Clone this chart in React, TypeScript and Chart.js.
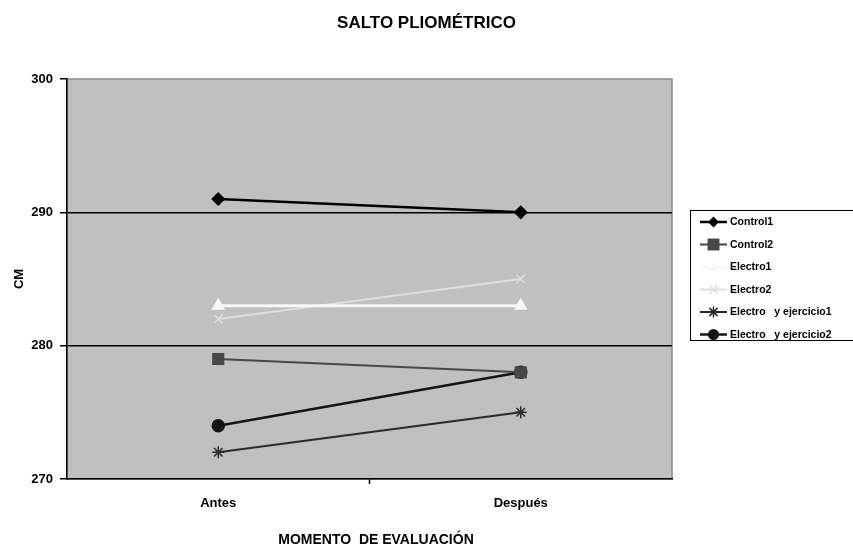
import React, { useEffect, useRef } from "react";
import { Chart, registerables } from "chart.js";

Chart.register(...registerables);

// Evaluation moments
const categories = ["Antes", "Después"];

// Jump heights (cm) per group
const control1 = [291, 290];
const control2 = [279, 278];
const electro1 = [283, 283];
const electro2 = [282, 285];
const electroEj1 = [272, 275];
const electroEj2 = [274, 278];

const seriesNames = [
  "Control1",
  "Control2",
  "Electro1",
  "Electro2",
  "Electro   y ejercicio1",
  "Electro   y ejercicio2",
];

const yMin = 270;
const yMax = 300;
const yStep = 10;

const chartTitle = "SALTO PLIOMÉTRICO";
const xTitle = "MOMENTO  DE EVALUACIÓN";
const yTitle = "CM";

const FONT = "'Liberation Sans', Arial, sans-serif";

// Gray plot area with a thin frame, painted under the grid and lines
const plotBackground = {
  id: "plotBackground",
  beforeDraw(chart: any) {
    const { ctx, chartArea: a } = chart;
    ctx.save();
    ctx.fillStyle = "#c0c0c0";
    ctx.fillRect(a.left, a.top, a.right - a.left, a.bottom - a.top);
    ctx.strokeStyle = "#8a8a8a";
    ctx.lineWidth = 1.5;
    ctx.strokeRect(a.left, a.top, a.right - a.left, a.bottom - a.top);
    ctx.restore();
  },
};

function drawMarker(
  ctx: CanvasRenderingContext2D,
  style: string,
  x: number,
  y: number,
  r: number,
  fill: string,
  stroke: string
) {
  ctx.save();
  ctx.fillStyle = fill;
  ctx.strokeStyle = stroke;
  ctx.lineWidth = 1.5;
  ctx.beginPath();
  if (style === "rectRot") {
    ctx.moveTo(x, y - r);
    ctx.lineTo(x + r, y);
    ctx.lineTo(x, y + r);
    ctx.lineTo(x - r, y);
    ctx.closePath();
    ctx.fill();
  } else if (style === "rect") {
    const s = r * 0.85;
    ctx.rect(x - s, y - s, 2 * s, 2 * s);
    ctx.fill();
  } else if (style === "triangle") {
    ctx.moveTo(x, y - r);
    ctx.lineTo(x + r, y + r * 0.7);
    ctx.lineTo(x - r, y + r * 0.7);
    ctx.closePath();
    ctx.fill();
  } else if (style === "crossRot") {
    const s = r * 0.75;
    ctx.moveTo(x - s, y - s);
    ctx.lineTo(x + s, y + s);
    ctx.moveTo(x + s, y - s);
    ctx.lineTo(x - s, y + s);
    ctx.stroke();
  } else if (style === "star") {
    const s = r * 0.75;
    ctx.moveTo(x - s, y - s);
    ctx.lineTo(x + s, y + s);
    ctx.moveTo(x + s, y - s);
    ctx.lineTo(x - s, y + s);
    ctx.moveTo(x, y - r);
    ctx.lineTo(x, y + r);
    ctx.stroke();
  } else {
    ctx.arc(x, y, r, 0, Math.PI * 2);
    ctx.fill();
  }
  ctx.restore();
}

// Title, x-axis caption and a boxed legend on the right
const chartDecor = {
  id: "chartDecor",
  afterDraw(chart: any) {
    const { ctx, width } = chart;
    ctx.save();
    ctx.fillStyle = "#000";
    ctx.textAlign = "center";
    ctx.textBaseline = "middle";
    ctx.font = `bold 17px ${FONT}`;
    ctx.fillText(chartTitle, width / 2, 23);
    ctx.font = `bold 14px ${FONT}`;
    ctx.fillText(xTitle, 376, 540);

    const boxL = 690;
    const boxT = 210;
    const boxB = 340;
    ctx.strokeStyle = "#000";
    ctx.lineWidth = 1;
    ctx.strokeRect(boxL + 0.5, boxT + 0.5, 200, boxB - boxT);

    ctx.font = `bold 10.5px ${FONT}`;
    ctx.textAlign = "left";
    chart.data.datasets.forEach((ds: any, i: number) => {
      const y = 222 + i * 22.5;
      ctx.strokeStyle = ds.borderColor;
      ctx.lineWidth = ds.borderWidth;
      ctx.beginPath();
      ctx.moveTo(700, y);
      ctx.lineTo(727, y);
      ctx.stroke();
      drawMarker(ctx, ds.pointStyle, 713.5, y, ds.pointRadius - 0.5, ds.pointBackgroundColor, ds.pointBorderColor);
      ctx.fillStyle = "#000";
      ctx.fillText(ds.label, 730, y + 0.5);
    });
    ctx.restore();
  },
};

export default function App() {
  const canvasRef = useRef<HTMLCanvasElement | null>(null);

  useEffect(() => {
    if (!canvasRef.current) return;
    const mk = (
      label: string,
      data: number[],
      color: string,
      pointStyle: string,
      pointRadius: number,
      borderWidth: number
    ) => ({
      label,
      data,
      borderColor: color,
      backgroundColor: color,
      pointBackgroundColor: color,
      pointBorderColor: color,
      pointStyle,
      pointRadius,
      pointBorderWidth: 1.5,
      borderWidth,
      tension: 0,
    });

    const chart = new Chart(canvasRef.current, {
      type: "line",
      data: {
        labels: categories,
        datasets: [
          mk(seriesNames[0], control1, "#000000", "rectRot", 6, 2.5),
          mk(seriesNames[1], control2, "#474747", "rect", 7.5, 2),
          mk(seriesNames[2], electro1, "#f7f7f7", "triangle", 6.5, 3),
          mk(seriesNames[3], electro2, "#dedede", "crossRot", 6, 2),
          mk(seriesNames[4], electroEj1, "#2b2b2b", "star", 6, 2),
          mk(seriesNames[5], electroEj2, "#141414", "circle", 6, 2.5),
        ] as any,
      },
      options: {
        animation: false,
        responsive: false,
        maintainAspectRatio: false,
        layout: { padding: { top: 79, right: 181, left: 0, bottom: 0 } },
        plugins: {
          legend: { display: false },
          title: { display: false },
          tooltip: { enabled: false },
        },
        scales: {
          x: {
            type: "category",
            offset: true,
            afterFit: (scale: any) => {
              scale.height = 69;
            },
            grid: {
              display: true,
              offset: true,
              drawOnChartArea: false,
              tickLength: 5,
              color: "#000",
              tickColor: (ctx: any) => (ctx.index === 1 ? "#000" : "rgba(0,0,0,0)"),
              tickWidth: 1.5,
            },
            border: { display: true, color: "#000", width: 1.5 },
            ticks: {
              color: "#000",
              padding: 12,
              font: { family: FONT, size: 13, weight: "bold" },
            },
            title: { display: false },
          },
          y: {
            min: yMin,
            max: yMax,
            afterFit: (scale: any) => {
              scale.width = 67;
            },
            grid: {
              display: true,
              drawOnChartArea: true,
              tickLength: 7,
              lineWidth: 1.5,
              color: (ctx: any) =>
                ctx.tick && (ctx.tick.value === yMax || ctx.tick.value === yMin)
                  ? "rgba(0,0,0,0)"
                  : "#000",
              tickColor: "#000",
            },
            border: { display: true, color: "#000", width: 1.5 },
            ticks: {
              stepSize: yStep,
              color: "#000",
              padding: 7,
              font: { family: FONT, size: 13, weight: "bold" },
            },
            title: {
              display: true,
              text: yTitle,
              color: "#000",
              font: { family: FONT, size: 13, weight: "bold" },
              padding: { top: 12, bottom: 0 },
            },
          },
        },
      },
      plugins: [plotBackground, chartDecor],
    });
    return () => chart.destroy();
  }, []);

  return (
    <div style={{ position: "fixed", left: 0, top: 0, width: 853, height: 548, background: "#fff" }}>
      <canvas ref={canvasRef} width={853} height={548} style={{ width: 853, height: 548 }} />
    </div>
  );
}
